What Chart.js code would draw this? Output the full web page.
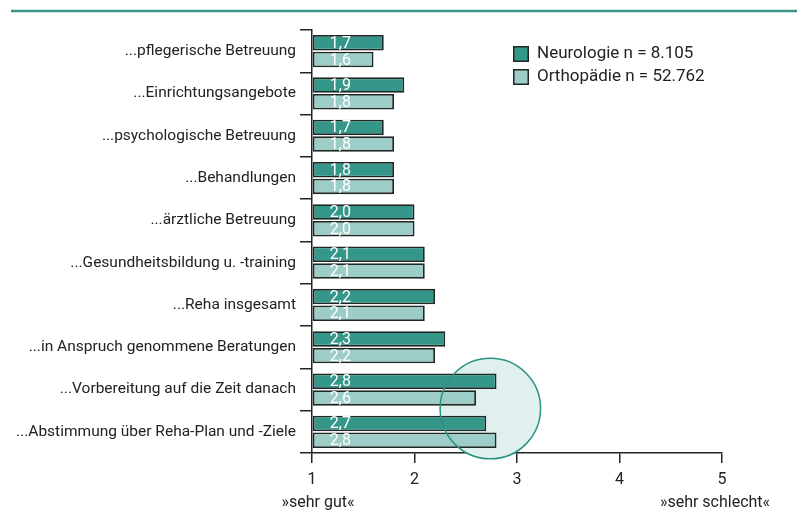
<!DOCTYPE html>
<html>
<head>
<meta charset="utf-8">
<script src="https://cdn.jsdelivr.net/npm/chart.js@4.4.1/dist/chart.umd.min.js"></script>
<style>
html,body{margin:0;padding:0;background:#fff;}
#wrap{position:relative;width:802px;height:512px;}
</style>
</head>
<body>
<div id="wrap"><canvas id="c" width="802" height="512"></canvas></div>
<script>
const categories = [
  "...pflegerische Betreuung",
  "...Einrichtungsangebote",
  "...psychologische Betreuung",
  "...Behandlungen",
  "...ärztliche Betreuung",
  "...Gesundheitsbildung u. -training",
  "...Reha insgesamt",
  "...in Anspruch genommene Beratungen",
  "...Vorbereitung auf die Zeit danach",
  "...Abstimmung über Reha-Plan und -Ziele"
];
const neurologie = [1.7, 1.9, 1.7, 1.8, 2.0, 2.1, 2.2, 2.3, 2.8, 2.7];
const orthopaedie = [1.6, 1.8, 1.8, 1.8, 2.0, 2.1, 2.1, 2.2, 2.6, 2.8];
const seriesLabels = ["Neurologie n = 8.105", "Orthopädie n = 52.762"];
const xTicks = [1, 2, 3, 4, 5];
const scaleEndLabels = ["»sehr gut«", "»sehr schlecht«"];

const FONT = "Roboto, 'Noto Sans', sans-serif";
const DARK = "#1f2624";
const NEURO = "#35968a";
const ORTHO = "#9ccdc6";

const decor = {
  id: "decor",
  beforeDraw(chart) {
    const ctx = chart.ctx;
    ctx.save();
    ctx.strokeStyle = "#3a9488";
    ctx.lineWidth = 2.5;
    ctx.beginPath();
    ctx.moveTo(11, 11);
    ctx.lineTo(797, 11);
    ctx.stroke();
    ctx.restore();
  },
  beforeDatasetsDraw(chart, args, opts) {
    const {x, y} = chart.scales;
    const c = opts.circle;
    const cx = x.getPixelForValue(c.x), cy = y.getPixelForValue(c.y);
    const r = x.getPixelForValue(1 + c.r) - x.getPixelForValue(1);
    const ctx = chart.ctx;
    ctx.save();
    ctx.fillStyle = "#e0f0ee";
    ctx.beginPath();
    ctx.arc(cx, cy, r, 0, Math.PI * 2);
    ctx.fill();
    ctx.restore();
  },
  afterDatasetsDraw(chart, args, opts) {
    const ctx = chart.ctx;
    const {x, y} = chart.scales;
    // value labels
    ctx.save();
    ctx.fillStyle = "#ffffff";
    ctx.font = "16px " + FONT;
    ctx.textAlign = "left";
    ctx.textBaseline = "middle";
    chart.data.datasets.forEach((ds, di) => {
      const meta = chart.getDatasetMeta(di);
      meta.data.forEach((bar, i) => {
        const v = ds.data[i];
        ctx.fillText(v.toFixed(1).replace(".", ","), bar.base + 17, bar.y + 1);
      });
    });
    ctx.restore();
    // circle outline
    const c = opts.circle;
    const cx = x.getPixelForValue(c.x), cy = y.getPixelForValue(c.y);
    const r = x.getPixelForValue(1 + c.r) - x.getPixelForValue(1);
    ctx.save();
    ctx.strokeStyle = "#2a9282";
    ctx.lineWidth = 1.5;
    ctx.beginPath();
    ctx.arc(cx, cy, r, 0, Math.PI * 2);
    ctx.stroke();
    ctx.restore();
    // legend
    ctx.save();
    const lx = x.getPixelForValue(xTicks[0]) + 201;
    let ly = chart.chartArea.top + 16;
    ctx.font = "17px " + FONT;
    ctx.textBaseline = "middle";
    chart.data.datasets.forEach((ds) => {
      ctx.fillStyle = ds.backgroundColor;
      ctx.fillRect(lx, ly, 16, 16);
      ctx.strokeStyle = DARK;
      ctx.lineWidth = 1.5;
      ctx.strokeRect(lx + 0.75, ly + 0.75, 14.5, 14.5);
      ctx.fillStyle = "#222";
      ctx.fillText(ds.label, lx + 24, ly + 8);
      ly += 23;
    });
    ctx.restore();
    // scale end labels
    ctx.save();
    ctx.font = "16px " + FONT;
    ctx.fillStyle = "#222";
    ctx.textBaseline = "middle";
    const by = chart.chartArea.bottom + 50;
    ctx.textAlign = "center";
    ctx.fillText(scaleEndLabels[0], x.getPixelForValue(xTicks[0]) + 6, by);
    ctx.fillText(scaleEndLabels[1], x.getPixelForValue(xTicks[xTicks.length - 1]) - 7, by);
    ctx.restore();
  }
};

new Chart(document.getElementById("c"), {
  type: "bar",
  data: {
    labels: categories,
    datasets: [
      {label: seriesLabels[0], data: neurologie, backgroundColor: NEURO, borderColor: DARK, borderWidth: 1.8, borderSkipped: false},
      {label: seriesLabels[1], data: orthopaedie, backgroundColor: ORTHO, borderColor: DARK, borderWidth: 1.8, borderSkipped: false}
    ]
  },
  options: {
    indexAxis: "y",
    responsive: false,
    animation: false,
    categoryPercentage: 0.79,
    barPercentage: 0.93,
    base: 1,
    layout: {padding: {top: 30, right: 80, left: 0, bottom: 0}},
    plugins: {
      legend: {display: false},
      tooltip: {enabled: false},
      decor: {circle: {x: 2.74, y: 8.45, r: 0.49}}
    },
    scales: {
      x: {
        type: "linear",
        min: 1, max: 5,
        afterBuildTicks(scale) { scale.ticks = xTicks.map(v => ({value: v})); },
        afterFit(scale) { scale.height = 59; },
        grid: {drawOnChartArea: false, tickLength: 10, color: DARK, lineWidth: 1.5},
        border: {display: true, color: DARK, width: 1.5},
        ticks: {color: "#222", font: {family: FONT, size: 16}, padding: 7}
      },
      y: {
        afterFit(scale) { scale.width = 312; },
        grid: {drawOnChartArea: false, tickLength: 12, color: DARK, lineWidth: 1.5, offset: true},
        border: {display: true, color: DARK, width: 1.5},
        ticks: {color: "#222", font: {family: FONT, size: 15.5}, padding: 4, autoSkip: false}
      }
    }
  },
  plugins: [decor]
});
</script>
</body>
</html>
